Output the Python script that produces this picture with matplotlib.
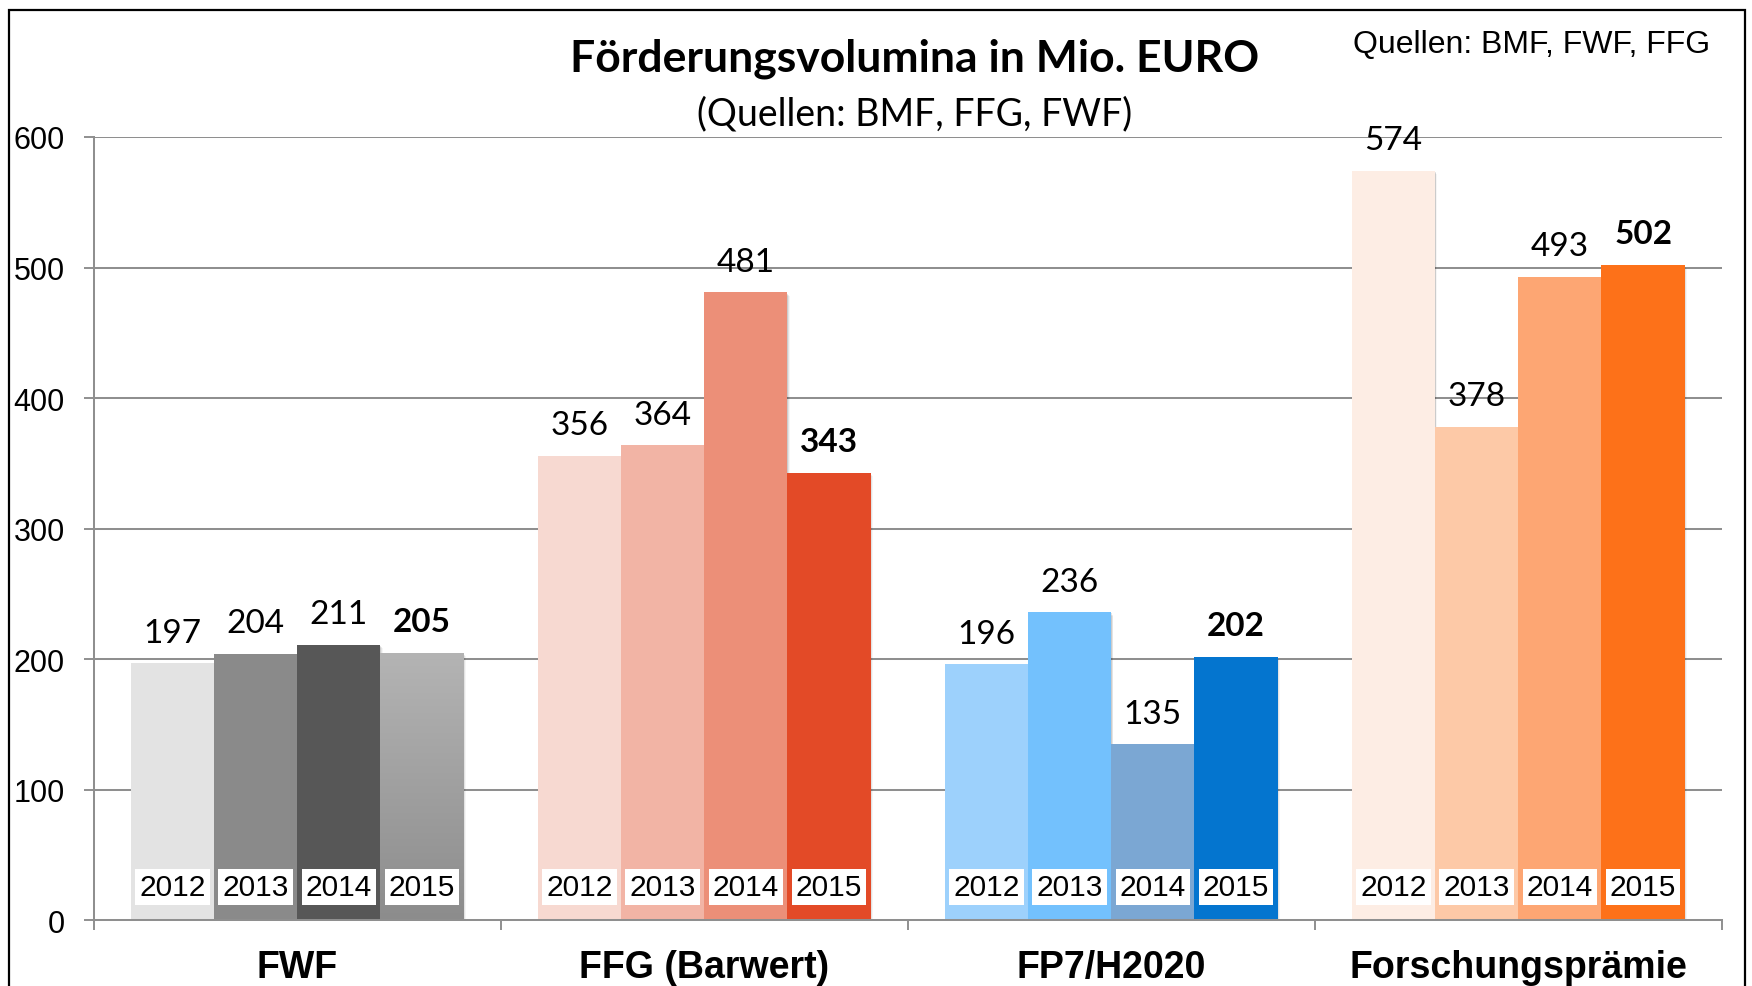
import matplotlib
matplotlib.use("Agg")
import matplotlib.pyplot as plt
import matplotlib.patches as mpatches
import numpy as np

categories = ["FWF", "FFG (Barwert)", "FP7/H2020", "Forschungsprämie"]
years = ["2012", "2013", "2014", "2015"]
fwf = [197, 204, 211, 205]
ffg = [356, 364, 481, 343]
fp7 = [196, 236, 135, 202]
fpr = [574, 378, 493, 502]
series = [fwf, ffg, fp7, fpr]
colors = [
    ["#E3E3E3", "#8A8A8A", "#575757", "#A4A4A4"],
    ["#F7D9D1", "#F2B4A5", "#EC8F78", "#E34A27"],
    ["#9DD1FC", "#73C1FD", "#7BA7D3", "#0475CF"],
    ["#FDEDE4", "#FDC9A7", "#FDA673", "#FD7119"],
]
yticks = [0, 100, 200, 300, 400, 500, 600]
title = "Förderungsvolumina in Mio. EURO"
subtitle = "(Quellen: BMF, FFG, FWF)"
source = "Quellen: BMF, FWF, FFG"

W, H = 1752, 987
fig = plt.figure(figsize=(W / 100, H / 100), dpi=100)
fig.patch.set_facecolor("white")
ax = fig.add_axes([93.7 / W, 1 - 921.3 / H, (1721.7 - 93.7) / W, (921.3 - 138) / H])
ax.set_xlim(-0.5, 3.5)
ax.set_ylim(0, 600)

grid_c = "#8F8F8F"
for v in yticks[1:]:
    ax.axhline(v, color=grid_c, lw=1.45, zorder=0)

bw = 0.2046
offs = [-1.5, -0.5, 0.5, 1.5]
calibri = ["Lato", "DejaVu Sans"]
arial = ["Liberation Sans", "DejaVu Sans"]

for i, vals in enumerate(series):
    for j, v in enumerate(vals):
        x = i + offs[j] * bw
        # soft shadow
        for k, a in enumerate([0.10, 0.07, 0.04]):
            d = 0.003 * (k + 1)
            sh = mpatches.Rectangle((x - bw / 2 + d * 0.6, -d * 300), bw, v, facecolor="#000000",
                                    alpha=a, edgecolor="none", zorder=1)
            ax.add_patch(sh)
        bars = ax.bar(x, v, width=bw, color=colors[i][j], zorder=2, linewidth=0)
        if i == 0 and j == 3:
            b = bars[0]
            grad = np.linspace(0, 1, 256).reshape(-1, 1)
            c_top = np.array([0xB4, 0xB4, 0xB4]) / 255
            c_bot = np.array([0x8C, 0x8C, 0x8C]) / 255
            img = c_bot[None, None, :] * (1 - grad[:, :, None]) + c_top[None, None, :] * grad[:, :, None]
            im = ax.imshow(img, extent=(x - bw / 2, x + bw / 2, 0, v), origin="lower",
                           aspect="auto", zorder=2.5)
            im.set_clip_path(b)
        ax.annotate(str(v), (x, v), xytext=(0, 15.5), textcoords="offset points",
                    ha="center", va="baseline", fontsize=24, family=calibri,
                    fontweight="bold" if j == 3 else "normal", color="black", zorder=5)
        ax.text(x, 25.5, years[j], ha="center", va="center", fontsize=21.5, family=arial,
                color="black", zorder=5,
                bbox=dict(facecolor="white", edgecolor="none", pad=3))

ax.set_aspect("auto")
ax.set_yticks(yticks)
ax.set_yticklabels([str(t) for t in yticks], family=arial, fontsize=22)
ax.tick_params(axis="y", length=7.2, width=1.4, color=grid_c, pad=13.5, direction="out")
ax.set_xticks(range(4))
ax.set_xticklabels(categories, family=arial, fontsize=27, fontweight="bold")
ax.tick_params(axis="x", which="major", length=0, pad=20.5)
ax.set_xticks([-0.5, 0.5, 1.5, 2.5, 3.5], minor=True)
ax.tick_params(axis="x", which="minor", length=7.2, width=1.4, color=grid_c, direction="out")
for s in ["top", "right"]:
    ax.spines[s].set_visible(False)
for s in ["left", "bottom"]:
    ax.spines[s].set_color(grid_c)
    ax.spines[s].set_linewidth(1.45)
ax.set_facecolor("none")

fig.text(915 / W, 1 - 71.5 / H, title, ha="center", va="baseline", fontsize=32,
         fontweight="bold", family=calibri)
fig.text(915 / W, 1 - 125 / H, subtitle, ha="center", va="baseline", fontsize=27,
         family=calibri)
fig.text(1710 / W, 1 - 53.3 / H, source, ha="right", va="baseline", fontsize=23,
         family=arial)

# outer frame
frame = mpatches.Rectangle((8.5 / W, -0.05), (1745 - 8.5) / W, 1.05 - 10.7 / H,
                           transform=fig.transFigure, facecolor="none",
                           edgecolor="black", linewidth=1.6)
fig.patches.append(frame)

fig.savefig("out.png", dpi=100)
